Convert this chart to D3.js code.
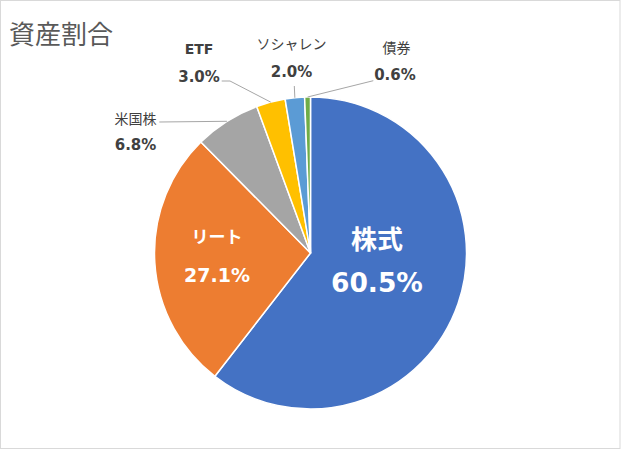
<!DOCTYPE html>
<html>
<head>
<meta charset="utf-8">
<script src="https://cdn.jsdelivr.net/npm/d3@7"></script>
<style>
  body { margin: 0; background: #fff; }
  text { font-family: "Noto Sans CJK JP", "Noto Sans", sans-serif; }
  text.num { font-family: "DejaVu Sans", sans-serif; }
</style>
</head>
<body>
<div id="chart"></div>
<script>
// data
let categories = ["株式", "リート", "米国株", "ETF", "ソシャレン", "債券"];
let shares = [60.5, 27.1, 6.8, 3.0, 2.0, 0.6];
let colors = ["#4472C4", "#ED7D31", "#A5A5A5", "#FFC000", "#5B9BD5", "#70AD47"];

let w = 621;
let h = 450;
let cx = 310.5;
let cy = 253;
let r = 156;

let viz = d3.select("#chart")
  .append("svg")
    .attr("width", w)
    .attr("height", h);

// chart frame
viz.append("rect")
  .attr("x", 0.5).attr("y", 0.5)
  .attr("width", w - 1.5).attr("height", h - 2)
  .attr("fill", "#fff")
  .attr("stroke", "#D9D9D9");

viz.append("text")
  .attr("x", 9)
  .attr("y", 44)
  .attr("font-size", 26)
  .attr("fill", "#595959")
  .text("資産割合");

let pie = d3.pie().sort(null).value(d => d.v);
let arcs = pie(categories.map((c, i) => ({ name: c, v: shares[i], color: colors[i] })));

let arc = d3.arc().innerRadius(0).outerRadius(r);
let edge = d3.arc().innerRadius(r).outerRadius(r);

let g = viz.append("g").attr("transform", "translate(" + cx + "," + cy + ")");

g.selectAll("path.slice").data(arcs)
  .enter()
    .append("path")
    .attr("class", "slice")
    .attr("d", arc)
    .attr("fill", d => d.data.color)
    .attr("stroke", "#fff")
    .attr("stroke-width", 1.5)
    .attr("stroke-linejoin", "round");

///////////////////////////////////////////////////////////////////////
// labels inside the two big slices

let insideStyle = [
  { nameSize: 26, valueSize: 26.5, dyName: -38, dyValue: 7, k: 0.9 },
  { nameSize: 17, valueSize: 19, dyName: -23.5, dyValue: 16.5, k: 1.2 }
];

arcs.slice(0, 2).forEach(function(d, i) {
  let s = insideStyle[i];
  let a = d3.arc().innerRadius(0).outerRadius(r * s.k);
  let c = a.centroid(d);
  g.append("text")
    .attr("x", c[0]).attr("y", c[1] + s.dyName)
    .attr("text-anchor", "middle").attr("dominant-baseline", "central")
    .attr("font-size", s.nameSize).attr("font-weight", "bold")
    .attr("fill", "#fff")
    .text(d.data.name);
  g.append("text")
    .attr("class", "num")
    .attr("x", c[0]).attr("y", c[1] + s.dyValue)
    .attr("text-anchor", "middle").attr("dominant-baseline", "central")
    .attr("font-size", s.valueSize).attr("font-weight", "bold")
    .attr("fill", "#fff")
    .text(d.data.v.toFixed(1) + "%");
});

///////////////////////////////////////////////////////////////////////
// outside labels with leader lines (label placement relative to centre)

let outside = [
  { name: [-175, -135], value: [-175, -108], line: [[-151.2, -131]] },
  { name: [-111.5, -204], value: [-111.5, -176], line: [[-88.8, -172], [-80.5, -172]] },
  { name: [-19, -210], value: [-19, -181.3], line: [[-16.2, -167]] },
  { name: [86, -205.7], value: [84.5, -178], line: [[62.8, -172.3]] }
];

arcs.slice(2).forEach(function(d, i) {
  let o = outside[i];
  let end = edge.centroid(d);
  let pts = o.line.concat([end]);
  let latin = d.data.name == "ETF";
  g.append("path")
    .attr("d", d3.line()(pts))
    .attr("fill", "none")
    .attr("stroke", "#A6A6A6")
    .attr("stroke-width", 1);
  g.append("text")
    .attr("class", latin ? "num" : null)
    .attr("x", o.name[0]).attr("y", o.name[1])
    .attr("text-anchor", "middle").attr("dominant-baseline", "central")
    .attr("font-size", 14).attr("font-weight", latin ? "bold" : "normal")
    .attr("fill", "#404040")
    .text(d.data.name);
  g.append("text")
    .attr("class", "num")
    .attr("x", o.value[0]).attr("y", o.value[1])
    .attr("text-anchor", "middle").attr("dominant-baseline", "central")
    .attr("font-size", 15).attr("font-weight", "bold")
    .attr("fill", "#404040")
    .text(d.data.v.toFixed(1) + "%");
});
</script>
</body>
</html>
